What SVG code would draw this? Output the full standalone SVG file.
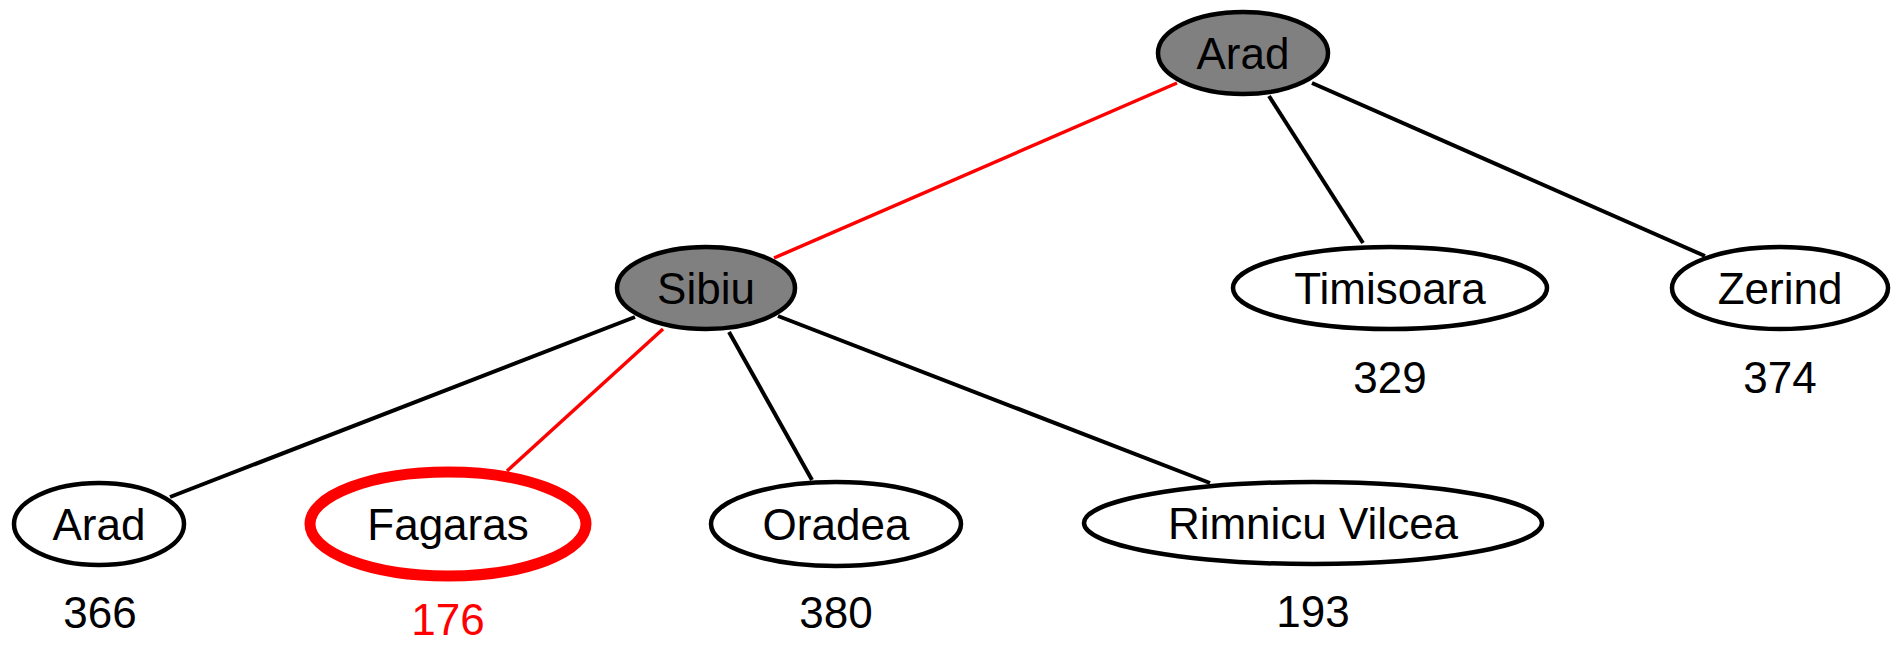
<svg xmlns="http://www.w3.org/2000/svg" width="1896" height="645" viewBox="0 0 1896 645">
<style>
  .bg{fill:#ffffff}
  .node{fill:#ffffff;stroke:#000000;stroke-width:4.5}
  .exp{fill:#808080;stroke:#000000;stroke-width:4.5}
  .goal{fill:#ffffff;stroke:#ff0000;stroke-width:11}
  .lbl{font-family:"Liberation Sans",Arial,sans-serif;font-size:44px;fill:#000000;text-anchor:middle}
  .red{fill:#ff0000}
  .edge{stroke:#000000;stroke-width:4;fill:none}
  .path{stroke:#ff0000;stroke-width:3.5;fill:none}
</style>
<rect class="bg" x="0" y="0" width="1896" height="645"/>
<g id="connectors">
  <line class="path" x1="1177" y1="83" x2="774" y2="258"/>
  <line class="edge" x1="1269" y1="96" x2="1363" y2="243"/>
  <line class="edge" x1="1312" y1="83" x2="1705" y2="256"/>
  <line class="edge" x1="635" y1="317" x2="170" y2="497"/>
  <line class="path" x1="663" y1="329" x2="507" y2="471"/>
  <line class="edge" x1="729" y1="332" x2="812" y2="480"/>
  <line class="edge" x1="778" y1="316" x2="1210" y2="483"/>
</g>
<g id="n-arad-root">
  <ellipse class="exp" cx="1243" cy="53" rx="85" ry="41"/>
  <text class="lbl" x="1243" y="69">Arad</text>
</g>
<g id="n-sibiu">
  <ellipse class="exp" cx="706" cy="288" rx="89" ry="41"/>
  <text class="lbl" x="706" y="304">Sibiu</text>
</g>
<g id="n-timisoara">
  <ellipse class="node" cx="1390" cy="288" rx="157" ry="41"/>
  <text class="lbl" x="1390" y="304">Timisoara</text>
  <text class="lbl" x="1390" y="393">329</text>
</g>
<g id="n-zerind">
  <ellipse class="node" cx="1780" cy="288" rx="108" ry="41"/>
  <text class="lbl" x="1780" y="304">Zerind</text>
  <text class="lbl" x="1780" y="393">374</text>
</g>
<g id="n-arad-leaf">
  <ellipse class="node" cx="99" cy="524" rx="85" ry="41"/>
  <text class="lbl" x="99" y="540">Arad</text>
  <text class="lbl" x="100" y="628">366</text>
</g>
<g id="n-fagaras">
  <ellipse class="goal" cx="448" cy="524" rx="138" ry="52"/>
  <text class="lbl" x="448" y="540">Fagaras</text>
  <text class="lbl red" x="448" y="635">176</text>
</g>
<g id="n-oradea">
  <ellipse class="node" cx="836" cy="524" rx="125" ry="42"/>
  <text class="lbl" x="836" y="540">Oradea</text>
  <text class="lbl" x="836" y="628">380</text>
</g>
<g id="n-rimnicu">
  <ellipse class="node" cx="1313" cy="523" rx="229" ry="41"/>
  <text class="lbl" x="1313" y="539">Rimnicu Vilcea</text>
  <text class="lbl" x="1313" y="627">193</text>
</g>
</svg>
